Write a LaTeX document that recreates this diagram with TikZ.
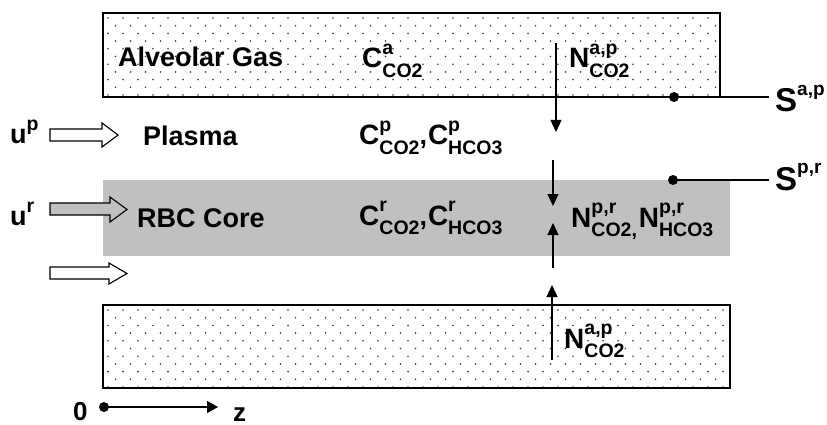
\documentclass[tikz,border=0pt]{standalone}
\usepackage{fontspec}
\setmainfont{Liberation Sans}
\usetikzlibrary{arrows.meta}

\definecolor{rbcgray}{RGB}{192,192,192}
\definecolor{dotgray}{RGB}{60,60,60}

% base letter with a stacked superscript and subscript
\newcommand{\symb}[3]{{\fontsize{28}{30}\selectfont #1}\rlap{\raisebox{0.5em}{\fontsize{19.5}{20}\selectfont #2}}\raisebox{-0.37em}{\fontsize{19.5}{20}\selectfont #3}}
\newcommand{\smallcomma}{\raisebox{-0.37em}{\fontsize{19.5}{20}\selectfont ,}}

% stippled fill of a rectangle: x1 y1 x2 y2
\newcommand{\stipple}[4]{%
  \begin{scope}
    \clip (#1,#2) rectangle (#3,#4);
    \foreach \r in {0,...,11}{
      \foreach \c in {0,...,42}{
        \fill[dotgray] ({#1+5+15*\c+7.5*mod(\r,2)},{#2+5+7.7*\r}) circle (0.9pt);
      }
    }
  \end{scope}}

\tikzset{
  lbl/.style={anchor=base west, inner sep=0pt, font=\fontsize{27}{30}\selectfont\bfseries},
  slbl/.style={anchor=base west, inner sep=0pt, font=\fontsize{33}{36}\selectfont\bfseries},
  wall/.style={draw=black, line width=1.5pt},
  flux/.style={line width=1.1pt, -{Triangle[length=12pt,width=11pt]}},
  fatarrow/.style={draw=black, line width=1.1pt, line join=miter},
  blob/.style={circle, fill=black, inner sep=0pt, minimum size=10pt},
  thin line/.style={line width=1.1pt}
}

\begin{document}
\begin{tikzpicture}[x=1pt,y=-1pt]
\useasboundingbox (0,0) rectangle (827,425);

% red blood cell core
\fill[rbcgray] (103,180) rectangle (730,256);

% alveolar gas walls
\fill[white] (103,13) rectangle (720,97);
\stipple{103}{13}{720}{97}
\draw[wall] (103,13) rectangle (720,97);
\fill[white] (103,305) rectangle (730,388);
\stipple{103}{305}{730}{388}
\draw[wall] (103,305) rectangle (730,388);

% inflow arrows
\draw[fatarrow, fill=white] (50,129) -- (102,129) -- (102,123) -- (118,135) -- (102,147) -- (102,141) -- (50,141) -- cycle;
\draw[fatarrow, fill=rbcgray] (50,203) -- (110,203) -- (110,197) -- (127,209.5) -- (110,222) -- (110,215) -- (50,215) -- cycle;
\draw[fatarrow, fill=white] (50,267) -- (109,267) -- (109,263) -- (127,273.5) -- (109,284) -- (109,279) -- (50,279) -- cycle;

% fluxes across the interfaces
\coordinate (ft1) at (556,43);  \coordinate (fh1) at (556,132);
\coordinate (ft2) at (553,160); \coordinate (fh2) at (553,206);
\coordinate (ft3) at (553,268); \coordinate (fh3) at (553,223);
\coordinate (ft4) at (552,360); \coordinate (fh4) at (552,285);
\draw[flux] (ft1) -- (fh1);
\draw[flux] (ft2) -- (fh2);
\draw[flux] (ft3) -- (fh3);
\draw[flux] (ft4) -- (fh4);

% interface markers
\node[blob] (sap) at (674,97) {};
\coordinate (sapend) at (769,97);
\draw[thin line] (sap.center) -- (sapend);
\node[blob] (spr) at (673,180) {};
\coordinate (sprend) at (769,180);
\draw[thin line] (spr.center) -- (sprend);

% labels
\node[lbl] (gas)   at (118,67)  {Alveolar Gas};
\node[lbl] (ca)    at (362,68)  {\symb{C}{a}{CO2}};
\node[lbl] (nap1)  at (569,68)  {\symb{N}{a,p}{CO2}};
\node[lbl] (up)    at (10,143)  {u\raisebox{0.45em}{\fontsize{19.5}{20}\selectfont p}};
\node[lbl] (plasma) at (143,146) {Plasma};
\node[lbl] (cp)    at (359,145) {\symb{C}{p}{CO2},\kern1pt\symb{C}{p}{HCO3}};
\node[lbl] (ur)    at (10,225)  {u\raisebox{0.45em}{\fontsize{19.5}{20}\selectfont r}};
\node[lbl] (rbc)   at (137,227) {RBC Core};
\node[lbl] (cr)    at (359,225) {\symb{C}{r}{CO2},\kern1pt\symb{C}{r}{HCO3}};
\node[lbl] (npr)   at (571,227) {\symb{N}{p,r}{CO2}\smallcomma\kern2pt\symb{N}{p,r}{HCO3}};
\node[lbl] (nap2)  at (564,348) {\symb{N}{a,p}{CO2}};
\node[slbl] (sapl) at (775,112) {S\raisebox{0.5em}{\fontsize{19}{20}\selectfont a,p}};
\node[slbl] (sprl) at (775,190) {S\raisebox{0.5em}{\fontsize{19}{20}\selectfont p,r}};

% axial coordinate
\node[blob] (origin) at (104,407) {};
\coordinate (zend) at (218,407);
\draw[line width=1.1pt, -{Triangle[length=11pt,width=12pt]}] (origin.center) -- (zend);
\node[lbl, font=\fontsize{26}{28}\selectfont\bfseries] (zero) at (73,420) {0};
\node[lbl, font=\fontsize{26}{28}\selectfont\bfseries] (zlab) at (233,421) {z};
\end{tikzpicture}
\end{document}
